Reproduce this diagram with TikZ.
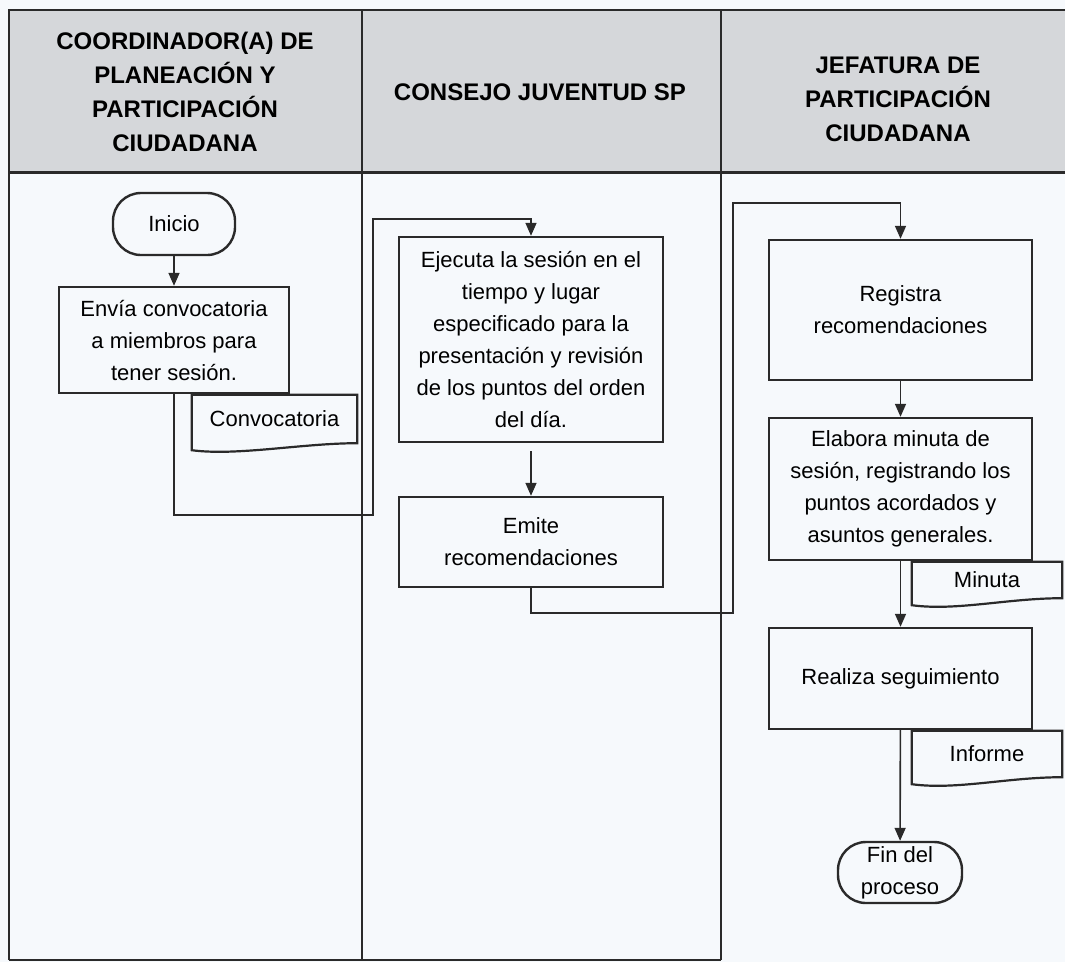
\documentclass[tikz,border=0pt]{standalone}
\usepackage{fontspec}
\setmainfont{Liberation Sans}
\usetikzlibrary{arrows.meta,positioning}
\definecolor{grisenc}{HTML}{D5D7DA}
\definecolor{fondo}{HTML}{F6F9FC}
\definecolor{linea}{HTML}{2A2A2A}
\tikzset{
  borde/.style={draw=linea, line width=2.2pt},
  proc/.style={draw=linea, line width=2.4pt, align=center, inner sep=0pt,
    font=\fontsize{22}{32}\selectfont},
  term/.style={proc, rounded corners=28pt},
  docu/.style={inner sep=0pt, align=center, font=\fontsize{22}{32}\selectfont},
  titulo/.style={align=center, font=\bfseries\fontsize{24}{34}\selectfont},
  flecha/.style={draw=linea, line width=1.6pt, -{Triangle[length=13pt,width=11pt]}},
}
% documento con bordo ondulato
\newcommand{\documento}[1]{%
  \draw[draw=linea, line width=2.2pt] (#1.south east) -- (#1.north east) -- (#1.north west)
    -- ([yshift=-7pt]#1.south west) .. controls +(45,6) and +(-55,0) .. (#1.south east) -- cycle;}
\begin{document}
\begin{tikzpicture}[x=1pt, y=-1pt]
    \useasboundingbox (0,0) rectangle (1065,962);
    \fill[fondo] (0,0) rectangle (1065,962);
    % Intestazione
    \fill[grisenc] (9,10) rectangle (1065,172);
    \node[titulo] (t1) at (185,92) {COORDINADOR(A) DE\\PLANEACIÓN Y\\PARTICIPACIÓN\\CIUDADANA};
    \node[titulo] (t2) at (540,92) {CONSEJO JUVENTUD SP};
    \node[titulo] (t3) at (898,99) {JEFATURA DE\\PARTICIPACIÓN\\CIUDADANA};
    % Corsie
    \draw[borde] (9,960) -- (9,10) -- (1065,10);
    \draw[draw=linea, line width=3pt] (9,172) -- (1065,172);
    \foreach \x in {362,721} {
      \draw[borde] (\x,10) -- (\x,960);
    }
    \draw[borde] (9,960) -- (721,960);
    % Coordinador
    \node[term, minimum width=122pt, minimum height=62pt] (inicio) at (174,224) {Inicio};
    \node[proc, minimum width=230pt, minimum height=106pt] (envia) at (174,340)
      {Envía convocatoria\\a miembros para\\tener sesión.};
    \node[docu, minimum width=165pt, minimum height=48pt] (convoc) at (274.5,419) {Convocatoria};
    \documento{convoc}
    % Consejo
    \node[proc, minimum width=264pt, minimum height=205pt] (ejecuta) at (531,339.5)
      {Ejecuta la sesión en el\\tiempo y lugar\\especificado para la\\presentación y revisión\\de los puntos del orden\\del día.};
    \node[proc, minimum width=264pt, minimum height=90pt] (emite) at (531,542)
      {Emite\\recomendaciones};
    % Jefatura
    \node[proc, minimum width=263pt, minimum height=140pt] (registra) at (900.5,310)
      {Registra\\recomendaciones};
    \node[proc, minimum width=263pt, minimum height=142pt] (elabora) at (900.5,489)
      {Elabora minuta de\\sesión, registrando los\\puntos acordados y\\asuntos generales.};
    \node[docu, minimum width=150pt, minimum height=36pt] (minuta) at (987,580) {Minuta};
    \documento{minuta}
    \node[proc, minimum width=263pt, minimum height=101pt] (realiza) at (900.5,678.5)
      {Realiza seguimiento};
    \node[docu, minimum width=150pt, minimum height=46pt] (informe) at (987,754) {Informe};
    \documento{informe}
    \node[term, minimum width=124pt, minimum height=61pt] (fin) at (900,872.5)
      {Fin del\\proceso};
    % Flussi
    \coordinate (c1) at (373,515);
    \coordinate (c2) at (373,219);
    \coordinate (c3) at (733,613);
    \coordinate (c4) at (733,203);
    \draw[flecha] (inicio) -- (envia);
    \draw[flecha] (envia.south) |- (c1) -- (c2) -| (ejecuta.north);
    \draw[flecha, shorten <=8pt] (ejecuta) -- (emite);
    \draw[flecha] (emite.south) |- (c3) -- (c4) -| (registra.north);
    \draw[flecha] (registra) -- (elabora);
    \draw[flecha] (elabora) -- (realiza);
    \draw[flecha] (realiza) -- (fin);
  \end{tikzpicture}
\end{document}
